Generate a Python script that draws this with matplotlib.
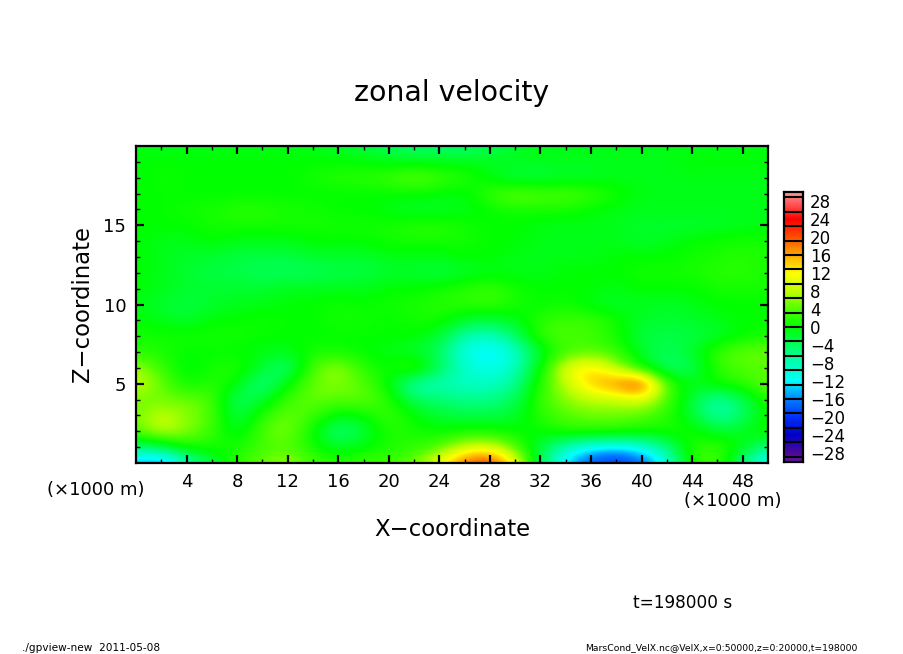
import numpy as np
import matplotlib
matplotlib.use("Agg")
import matplotlib.pyplot as plt
from matplotlib.colors import LinearSegmentedColormap, Normalize

x_km = np.arange(0, 51, 2)
z_km = np.arange(0, 21, 1)
# zonal velocity, rows from z=0 upward, columns x=0,2,...,50
vel_z00 = [-15,-17,-9,-3,2,5,7,3,2,3,3,5,11,20,23,12,-4,-13,-19,-21,-18,-11,2,4,-6,-13]
vel_z01 = [-5,-4,1,1,1,3,4,1,-2,0,1,2,4,9,10,4,-3,-9,-12,-13,-11,-6,2,3,-1,-6]
vel_z02 = [4,9,6,3,-2,4,6,0,-6,-3,2,1,0,1,1,0,0,2,2,2,1,1,1,-2,-1,1]
vel_z03 = [5,9,6,4,-4,2,5,3,-1,0,3,0,-2,-3,-3,-2,2,4,5,5,4,2,-2,-8,-5,1]
vel_z04 = [5,5,5,4,-5,-2,3,5,4,5,2,-4,-5,-6,-6,-4,3,6,8,8,10,4,-3,-8,-4,2]
vel_z05 = [9,5,0,2,0,-7,0,5,6,4,0,-9,-8,-9,-9,-7,2,8,15,18,24,3,-1,1,2,5]
vel_z06 = [7,3,-1,1,2,-2,-6,4,7,2,0,4,-4,-9,-11,-9,0,11,14,8,0,-5,-4,2,4,4]
vel_z07 = [2,1,0,0,0,-1,-1,1,1,0,-1,-2,-4,-11,-13,-10,-2,3,4,3,-2,-4,-2,3,5,5]
vel_z08 = [1,1,1,1,1,0,0,0,0,0,0,0,-2,-8,-9,-5,3,4,3,1,-3,-3,-3,-2,0,1]
vel_z09 = [0,-1,-2,0,0,1,0,0,1,1,0,1,1,-2,-3,-1,2,3,3,1,-2,-2,-2,-1,0,0]
vel_z10 = [-1,-2,-3,-2,-1,-1,0,0,1,0,1,1,2,2,3,1,0,1,-1,-2,-1,-2,-1,0,0,0]
vel_z11 = [0,-1,-2,-2,-2,-2,-1,-1,-1,-1,0,0,1,2,3,1,0,0,0,-1,0,0,0,1,1,1]
vel_z12 = [0,-1,-2,-3,-3,-4,-4,-4,-3,-3,-2,-2,-3,-2,-1,-1,-1,0,0,0,1,1,1,2,2,1]
vel_z13 = [0,-1,-2,-2,-3,-3,-3,-2,-2,-2,-1,-1,-1,0,0,-1,-1,-1,-1,0,0,0,1,1,2,1]
vel_z14 = [0,-1,-1,0,-1,-1,-1,0,0,0,1,1,1,1,0,0,-1,-1,-1,-1,-2,-1,0,1,1,1]
vel_z15 = [0,0,0,1,1,1,1,1,1,1,1,2,2,1,0,0,-1,-1,-1,-1,-2,-2,-2,-2,-1,-1]
vel_z16 = [0,0,1,1,2,2,1,1,0,0,-1,-2,-2,-1,0,1,1,1,0,-1,-1,-1,-1,-1,-1,-1]
vel_z17 = [0,0,0,0,0,0,0,0,0,0,0,0,0,-1,3,5,4,4,3,1,-1,-1,-1,-1,-1,-1]
vel_z18 = [-1,1,0,0,0,0,0,1,2,2,3,5,3,2,-1,-3,-3,-2,-2,-1,-1,-1,-1,-1,-1,-1]
vel_z19 = [0,0,0,0,0,0,0,0,0,0,-1,-1,-1,-1,-1,-1,-1,-1,-1,-1,-1,-1,0,0,0,0]
vel_z20 = [-1,-1,-1,-1,-1,-1,-1,-1,-2,-3,-4,-5,-5,-5,-4,-2,-1,-1,-1,-1,-1,-1,-1,-1,-1,-1]
velocity = np.array([vel_z00,vel_z01,vel_z02,vel_z03,vel_z04,vel_z05,vel_z06,vel_z07,vel_z08,vel_z09,
                     vel_z10,vel_z11,vel_z12,vel_z13,vel_z14,vel_z15,vel_z16,vel_z17,vel_z18,vel_z19,vel_z20], float)

color_values = [-30,-28,-24,-20,-16,-12,-8,-4,0,4,8,12,16,20,24,28,30]
color_list = ["#6a10a8","#4a0a9a","#0000c8","#0032ff","#0082ff","#00ffff","#00ffb4","#00ff5a",
              "#00ff00","#50ff00","#beff00","#ffff00","#ffaa00","#ff5000","#ff0000","#ff6464","#ff9696"]
cbar_ticks = list(range(-28, 29, 4))
cbar_lines = [-28.8 + 3.2 * i for i in range(19)]

W, H = 904, 654
fig = plt.figure(figsize=(W/100, H/100), dpi=100)
plt.rcParams['font.family'] = 'DejaVu Sans'
def rect(l, t, r, b):
    return [l/W, 1-b/H, (r-l)/W, (b-t)/H]

cmap = LinearSegmentedColormap.from_list("v", [((v+30)/60, c) for v, c in zip(color_values, color_list)], N=512)
norm = Normalize(-30, 30)

ax = fig.add_axes(rect(136, 146, 768, 463))
ax.imshow(velocity, origin='lower', extent=(-1, 51, -0.5, 20.5), aspect='auto', cmap=cmap, norm=norm,
          interpolation='bicubic', interpolation_stage='data')
ax.set_xlim(0, 50); ax.set_ylim(0, 20)
ax.set_xticks(range(4, 50, 4)); ax.set_xticks(range(2, 50, 4), minor=True)
ax.set_yticks([5, 10, 15]); ax.set_yticks([z for z in range(1, 20) if z % 5], minor=True)
ax.tick_params(which='major', direction='in', length=6, width=1.6, top=True, right=True, labelsize=13, pad=7)
ax.tick_params(which='minor', direction='in', length=3.2, width=1, top=True, right=True)
for s in ax.spines.values():
    s.set_linewidth(1.6)

cax = fig.add_axes(rect(784, 192, 803, 462))
cax.imshow(np.linspace(-30, 30, 540)[:, None], origin='lower', extent=(0, 1, -30, 30), aspect='auto', cmap=cmap, norm=norm)
for v in cbar_lines:
    cax.axhline(v, color='k', lw=1.5)
cax.set_xticks([])
cax.yaxis.tick_right()
cax.set_yticks(cbar_ticks)
cax.set_yticklabels([str(t).replace('-', '\u2212') for t in cbar_ticks], fontsize=12)
cax.tick_params(axis='y', length=0, pad=5)
for s in cax.spines.values():
    s.set_linewidth(1.6)

def T(px, py, s, size, **kw):
    kw.setdefault('ha', 'center')
    fig.text(px/W, 1-py/H, s, fontsize=size, va='center', **kw)

T(452, 93, "zonal velocity", 20.4)
T(452, 529, "X\u2212coordinate", 16.4)
T(83, 304, "Z\u2212coordinate", 16.4, rotation=90)
T(96, 490, "(\u00d71000 m)", 13)
T(733, 501, "(\u00d71000 m)", 13)
T(683, 603, "t=198000 s", 12.2)
T(22, 648, "./gpview-new  2011-05-08", 7.6, ha='left')
T(858, 648, "MarsCond_VelX.nc@VelX,x=0:50000,z=0:20000,t=198000", 6.7, ha='right')

fig.savefig("out.png", dpi=100, facecolor='white')
